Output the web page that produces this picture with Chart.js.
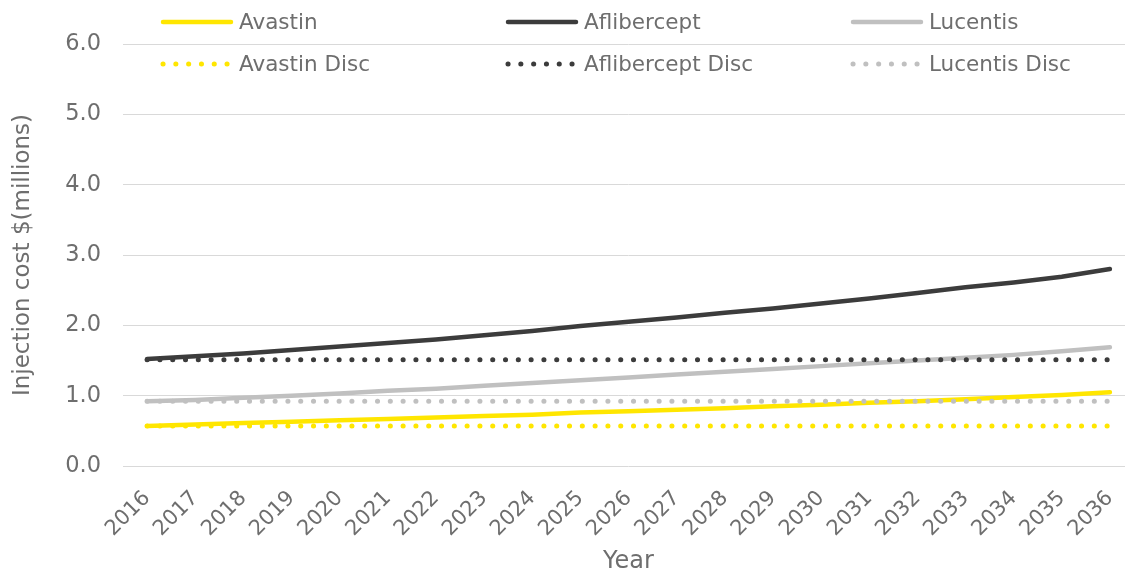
<!DOCTYPE html>
<html>
<head>
<meta charset="utf-8">
<script src="https://cdn.jsdelivr.net/npm/chart.js@4"></script>
<style>
  html, body { margin: 0; padding: 0; background: #fff; overflow: hidden; }
  #wrap { width: 1140px; height: 575px; }
</style>
</head>
<body>
<div id="wrap"><canvas id="costchart" width="1140" height="575"></canvas></div>
<script>
/* global Chart */
const years = ["2016", "2017", "2018", "2019", "2020", "2021", "2022", "2023", "2024", "2025", "2026",
    "2027", "2028", "2029", "2030", "2031", "2032", "2033", "2034", "2035", "2036"];
const avastin = [0.57, 0.59, 0.61, 0.63, 0.65, 0.67, 0.69, 0.71, 0.73, 0.76, 0.78,
    0.80, 0.82, 0.85, 0.87, 0.90, 0.92, 0.95, 0.98, 1.01, 1.05];
const aflibercept = [1.52, 1.56, 1.60, 1.65, 1.70, 1.75, 1.80, 1.86, 1.92, 1.99, 2.05,
    2.11, 2.18, 2.24, 2.31, 2.38, 2.46, 2.54, 2.61, 2.69, 2.80];
const lucentis = [0.92, 0.94, 0.97, 1.00, 1.03, 1.07, 1.10, 1.14, 1.18, 1.22, 1.26,
    1.30, 1.34, 1.38, 1.42, 1.46, 1.50, 1.54, 1.58, 1.63, 1.69];
const avastinDisc = years.map(() => 0.57);
const afliberceptDisc = years.map(() => 1.51);
const lucentisDisc = years.map(() => 0.92);
const yTicks = [0, 1, 2, 3, 4, 5, 6];

const textColor = "#6E6E6E";
const fontFamily = "'DejaVu Sans', Verdana, sans-serif";
const YELLOW = "#FFE600";
const DARK = "#3C3C3C";
const GREY = "#C0C0C0";

function solid(label, data, color) {
    return {
        label: label, data: data, borderColor: color, backgroundColor: color,
        borderWidth: 4.5, borderCapStyle: "round", pointRadius: 0, tension: 0, order: 2,
    };
}
function dotted(label, data, color) {
    return {
        label: label, data: data, borderColor: color, backgroundColor: color,
        borderWidth: 5, borderCapStyle: "round", borderDash: [0.1, 12.7],
        pointRadius: 0, tension: 0, order: 1,
    };
}

// legend drawn in a 3 x 2 grid like the original
const gridLegend = {
    id: "gridLegend",
    afterDraw(chart) {
        const ctx = chart.ctx;
        const cols = [161, 506, 851];
        const rows = [22, 64];
        ctx.save();
        chart.data.datasets.forEach((ds, i) => {
            const x = cols[i % 3];
            const y = rows[Math.floor(i / 3)];
            ctx.strokeStyle = ds.borderColor;
            ctx.lineWidth = ds.borderWidth;
            ctx.lineCap = "round";
            ctx.setLineDash(ds.borderDash || []);
            ctx.beginPath();
            ctx.moveTo(x + 2, y);
            ctx.lineTo(x + 70, y);
            ctx.stroke();
            ctx.setLineDash([]);
            ctx.fillStyle = textColor;
            ctx.font = "21.5px " + fontFamily;
            ctx.textBaseline = "middle";
            ctx.fillText(ds.label, x + 78, y + 1);
        });
        ctx.restore();
    },
};

new Chart(document.getElementById("costchart").getContext("2d"), {
    type: "line",
    data: {
        labels: years,
        datasets: [
            solid("Avastin", avastin, YELLOW),
            solid("Aflibercept", aflibercept, DARK),
            solid("Lucentis", lucentis, GREY),
            dotted("Avastin Disc", avastinDisc, YELLOW),
            dotted("Aflibercept Disc", afliberceptDisc, DARK),
            dotted("Lucentis Disc", lucentisDisc, GREY),
        ],
    },
    options: {
        responsive: false,
        animation: false,
        layout: { padding: { top: 44, right: 6, left: 0, bottom: 0 } },
        plugins: { legend: { display: false }, tooltip: { enabled: false } },
        scales: {
            x: {
                offset: true,
                grid: { display: false },
                border: { display: false },
                ticks: {
                    color: textColor,
                    font: { family: fontFamily, size: 21 },
                    maxRotation: 45,
                    minRotation: 45,
                    autoSkip: false,
                    padding: 12,
                },
                title: {
                    display: true,
                    text: "Year",
                    color: textColor,
                    font: { family: fontFamily, size: 24, lineHeight: 1.1 },
                    padding: { top: 0, bottom: 0 },
                },
                afterFit(scale) { scale.height = 109; },
            },
            y: {
                min: 0,
                max: 6,
                afterBuildTicks(scale) { scale.ticks = yTicks.map((v) => ({ value: v })); },
                grid: { color: "#D9D9D9", lineWidth: 1, drawTicks: false },
                border: { display: false },
                ticks: {
                    color: textColor,
                    font: { family: fontFamily, size: 22.5 },
                    padding: 22,
                    callback: (v) => Number(v).toFixed(1),
                },
                title: {
                    display: true,
                    text: "Injection cost $(millions)",
                    color: textColor,
                    font: { family: fontFamily, size: 23 },
                    padding: { top: 9, bottom: 0 },
                },
                afterFit(scale) { scale.width = 123; },
            },
        },
    },
    plugins: [gridLegend],
});
</script>
</body>
</html>
